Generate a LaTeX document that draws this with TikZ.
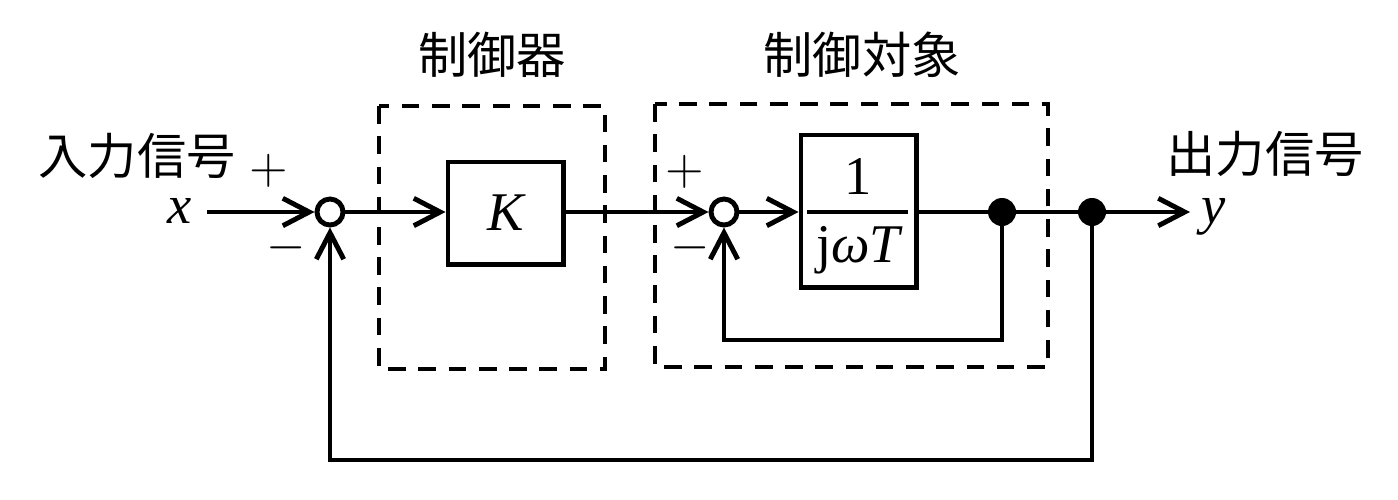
\documentclass[tikz,border=0pt]{standalone}
\usepackage{fontspec}
\newfontfamily\cjk{Noto Sans CJK JP}
\newfontfamily\tms{Liberation Serif}
\usetikzlibrary{arrows.meta}
\begin{document}
\begin{tikzpicture}[x=0.01cm,y=-0.01cm, line width=1.4pt,
  sumnode/.style={circle,draw,inner sep=0pt,minimum size=0.26cm},
  blk/.style={draw,rectangle,inner sep=0pt},
  dotnode/.style={circle,fill,inner sep=0pt,minimum size=0.28cm},
  sig/.style={-{Straight Barb[length=7.5pt,width=7.8pt]}},
  dbox/.style={dash pattern=on 5pt off 3.6pt},
  lbl/.style={font=\cjk\fontsize{14}{16}\selectfont, inner sep=0pt, text height=0.86em, text depth=0.1em},
  itl/.style={font=\tms\itshape\fontsize{15.5}{17}\selectfont, inner sep=0pt},
  sym/.style={font=\tms\itshape\fontsize{15.5}{17}\selectfont, inner sep=0pt, text height=0.46em, text depth=0pt, anchor=base},
  mth/.style={font=\fontsize{14}{16}\selectfont, inner sep=0pt}]
\useasboundingbox (0,0) rectangle (1398,499);
% dashed groups
\draw[dbox] (379,106) rectangle (605,369);
\draw[dbox] (655,104) rectangle (1048,367);
\node[lbl] (lc) at (492,60) {制御器};
\node[lbl] (lp) at (862,60) {制御対象};
\node[lbl] (lin) at (137,161) {入力信号};
\node[lbl] (lout) at (1265,159) {出力信号};
% nodes
\node[sumnode] (s1) at (330,212) {};
\node[sumnode] (s2) at (724,212) {};
\node[blk, minimum width=1.15cm, minimum height=1.02cm] (K) at (505.5,213) {};
\node[itl] (Kt) at (K.center) {K};
\node[blk, minimum width=1.15cm, minimum height=1.52cm] (G) at (858.5,211) {};
\node[itl, font=\tms\fontsize{15.5}{17}\selectfont] (num) at (858,176) {1};
\node[itl] (den) at (858,250) {{\upshape j}ω{}T};
\draw ([xshift=0.08cm]G.west |- s2) -- ([xshift=-0.11cm]G.east |- s2);
\node[dotnode] (d1) at (1002,212) {};
\node[dotnode] (d2) at (1092,212) {};
\coordinate (xin) at (207,212);
\coordinate (yout) at (1190,212);
\node[sym] (xl) at (180,223) {x};
\node[sym] (yl) at (1214,223) {y};
\node[mth] (p1) at (269,171) {$+$};
\node[mth] (m1) at (286,248) {$-$};
\node[mth] (p2) at (685,172) {$+$};
\node[mth] (m2) at (690,248) {$-$};
% connectors
\draw[sig] (xin) -- (s1.west);
\draw[sig] (s1.east) -- (K.west |- s1);
\draw[sig] (K.east |- s2) -- (s2.west);
\draw[sig] (s2.east) -- (G.west |- s2);
\draw (G.east |- s2) -- (d1.center) -- (d2.center);
\draw[sig] (d2.center) -- (yout);
\draw[sig] (d1.center) -- ++(0,128) -| (s2.south);
\draw[sig] (d2.center) -- ++(0,248) -| (s1.south);
\end{tikzpicture}
\end{document}
